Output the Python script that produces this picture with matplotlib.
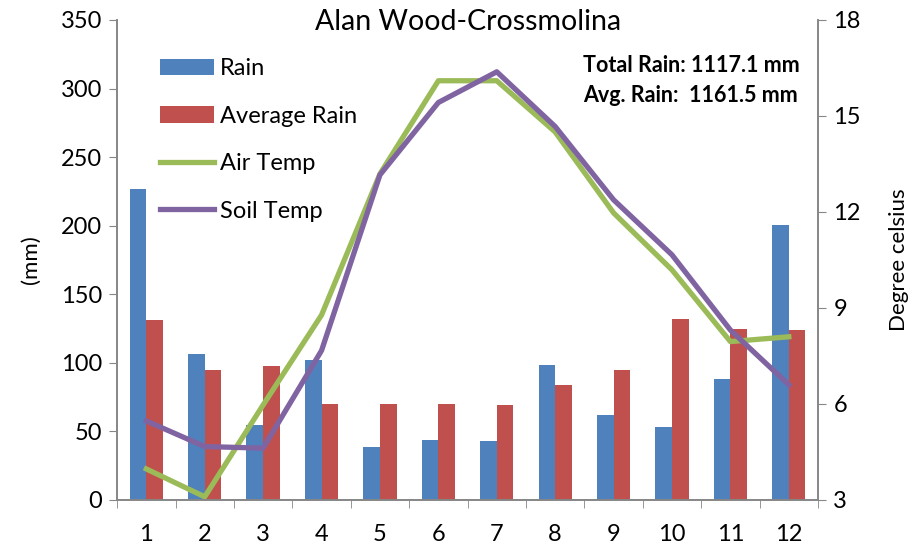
import matplotlib.pyplot as plt
import numpy as np

plt.rcParams['font.family'] = ['Lato', 'DejaVu Sans']

months = [1, 2, 3, 4, 5, 6, 7, 8, 9, 10, 11, 12]
rain = [227, 106.5, 54.7, 102, 38.7, 43.8, 43, 98.5, 62, 53, 88, 200.6]
avg_rain = [131, 95, 97.7, 70, 70, 70, 69.3, 84, 95, 132, 124.7, 124]
air_temp = [3.97, 3.1, 5.97, 8.78, 13.19, 16.1, 16.1, 14.5, 11.97, 10.19, 7.95, 8.1]
soil_temp = [5.47, 4.67, 4.62, 7.67, 13.16, 15.42, 16.38, 14.67, 12.38, 10.66, 8.31, 6.6]

fig = plt.figure(figsize=(9.15, 5.48), dpi=100)
ax = fig.add_axes([0.128, 0.0876, 0.766, 0.876])
ax2 = ax.twinx()

x = np.array(months)
w = 0.285
b1 = ax.bar(x - w / 2, rain, width=w, color='#4F81BD', label='Rain')
b2 = ax.bar(x + w / 2, avg_rain, width=w, color='#C0504D', label='Average Rain')
l1, = ax2.plot(x, air_temp, color='#9BBB59', lw=3.8, label='Air Temp')
l2, = ax2.plot(x, soil_temp, color='#8064A2', lw=3.8, label='Soil Temp')

ax.set_xlim(0.5, 12.5)
ax.set_ylim(0, 350)
ax2.set_ylim(3, 18)
ax.set_yticks(range(0, 351, 50))
ax2.set_yticks(range(3, 19, 3))
ax.set_xticks(months)
ax.set_xticks(np.arange(0.5, 12.6, 1), minor=True)
ax.tick_params(axis='x', which='major', length=0, pad=17, labelsize=17)
ax.tick_params(axis='x', which='minor', length=6, color='#868686')
ax.tick_params(axis='y', length=6, color='#868686', labelsize=17, pad=5)
ax2.tick_params(axis='y', length=6, color='#868686', labelsize=17, pad=5)

for a in (ax, ax2):
    a.spines['top'].set_visible(False)
    for s in ('left', 'right', 'bottom'):
        a.spines[s].set_color('#868686')
        a.spines[s].set_linewidth(1.2)

ax.set_ylabel('(mm)', fontsize=16, labelpad=14)
ax2.set_ylabel('Degree celsius', fontsize=16, labelpad=20)
ax.text(0.5, 0.996, 'Alan Wood-Crossmolina', fontsize=20.5,
        ha='center', va='center', transform=ax.transAxes)

ax.legend([b1, b2, l1, l2], ['Rain', 'Average Rain', 'Air Temp', 'Soil Temp'],
          loc='upper left', bbox_to_anchor=(0.061, 0.92), borderaxespad=0,
          borderpad=0, frameon=False, fontsize=17, labelspacing=1.12,
          handlelength=2.3, handletextpad=0.25)

fig.text(583 / 915, 1 - 66 / 548, 'Total Rain: 1117.1 mm', fontsize=15.5,
         fontweight='bold', va='center')
fig.text(583 / 915, 1 - 95 / 548, 'Avg. Rain:  1161.5 mm', fontsize=15.5,
         fontweight='bold', va='center')

fig.savefig('out.png', dpi=100)
